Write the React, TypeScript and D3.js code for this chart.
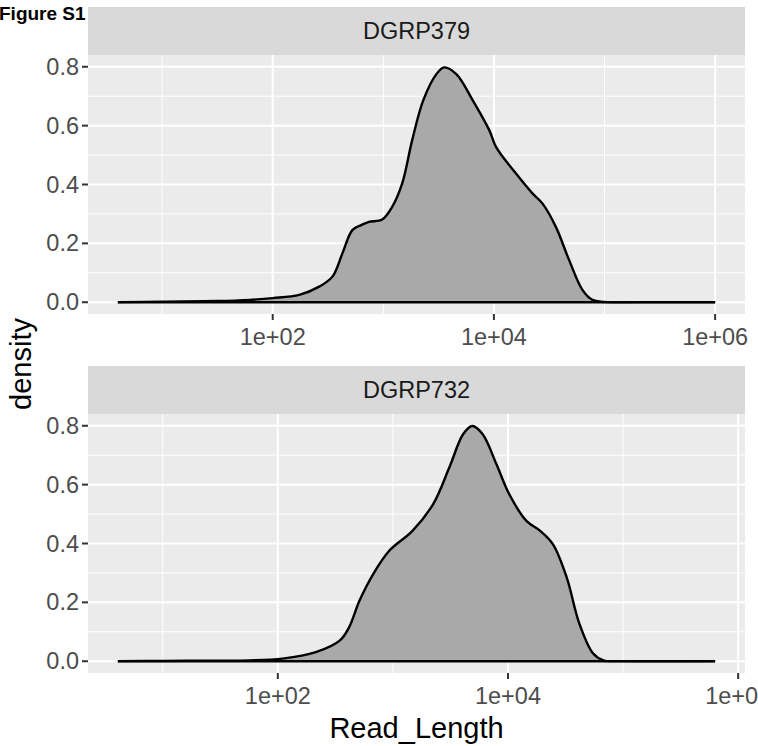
import * as d3 from "d3";

// log10(Read_Length) positions and estimated density
const facets = ["DGRP379", "DGRP732"];

const logLen379 = [0.6, 1.0, 1.5, 1.79, 2.0, 2.24, 2.42, 2.54, 2.63, 2.72, 2.8, 2.87, 2.99, 3.08, 3.17, 3.26, 3.36, 3.48, 3.55, 3.66, 3.81, 3.96, 4.02, 4.2, 4.35, 4.44, 4.56, 4.68, 4.8, 4.89, 5.0, 5.5, 6.0];
const density379 = [0.0, 0.002, 0.004, 0.008, 0.014, 0.025, 0.053, 0.087, 0.166, 0.245, 0.262, 0.273, 0.281, 0.324, 0.403, 0.549, 0.685, 0.775, 0.798, 0.775, 0.685, 0.583, 0.527, 0.437, 0.369, 0.335, 0.256, 0.143, 0.042, 0.008, 0.001, 0, 0];

const logLen732 = [0.61, 1.0, 1.5, 1.75, 2.04, 2.33, 2.54, 2.62, 2.71, 2.83, 2.97, 3.17, 3.35, 3.49, 3.61, 3.69, 3.78, 3.9, 4.01, 4.16, 4.28, 4.39, 4.51, 4.62, 4.74, 4.83, 5.0, 5.8];
const density732 = [0.0, 0.001, 0.002, 0.003, 0.009, 0.031, 0.071, 0.116, 0.206, 0.297, 0.376, 0.443, 0.534, 0.658, 0.771, 0.799, 0.771, 0.669, 0.568, 0.477, 0.443, 0.398, 0.285, 0.128, 0.026, 0.003, 0, 0];

const xBreaks = [1e2, 1e4, 1e6];
const xMinor = [1e1, 1e3, 1e5];
const yBreaks = [0, 0.2, 0.4, 0.6, 0.8];
const yMinor = [0.1, 0.3, 0.5, 0.7];

const W = 758, H = 746;
const left = 88, right = 745;
const font = "Liberation Sans, Arial, Helvetica, sans-serif";

const Panel = ({ name, logs, dens, top, id }) => {
  const stripH = 48, plotH = 259;
  const y0 = top + stripH, y1 = y0 + plotH;

  const pts = logs.map((l, i) => ({ x: Math.pow(10, l), y: dens[i] }));
  const lx = d3.extent(logs);
  const padX = (lx[1] - lx[0]) * 0.05;
  const x = d3.scaleLog()
    .domain([Math.pow(10, lx[0] - padX), Math.pow(10, lx[1] + padX)])
    .range([left, right]);
  const yMax = 0.8;
  const y = d3.scaleLinear()
    .domain([-yMax * 0.05, yMax * 1.05])
    .range([y1, y0]);

  const curve = d3.curveCatmullRom.alpha(0.5);
  const area = d3.area()
    .x(d => x(d.x))
    .y0(y(0))
    .y1(d => y(d.y))
    .curve(curve);
  const line = d3.line()
    .x(d => x(d.x))
    .y(d => y(d.y))
    .curve(curve);

  const inX = v => x(v) >= left && x(v) <= right;

  return (
    <g>
      <defs>
        <clipPath id={id}>
          <rect x={left} y={y0} width={right - left} height={y(0) - y0 + 1.2} />
        </clipPath>
      </defs>
      <rect x={left} y={top} width={right - left} height={stripH} fill="#D9D9D9" />
      <text x={(left + right) / 2} y={top + stripH / 2} textAnchor="middle" dominantBaseline="central"
        fontSize={23.5} fill="#1A1A1A" fontFamily={font}>{name}</text>
      <rect x={left} y={y0} width={right - left} height={plotH} fill="#EBEBEB" />
      {yMinor.map(v => <line key={"ym" + v} x1={left} x2={right} y1={y(v)} y2={y(v)} stroke="#fff" strokeWidth={1} />)}
      {xMinor.filter(inX).map(v => <line key={"xm" + v} x1={x(v)} x2={x(v)} y1={y0} y2={y1} stroke="#fff" strokeWidth={1} />)}
      {yBreaks.map(v => <line key={"yb" + v} x1={left} x2={right} y1={y(v)} y2={y(v)} stroke="#fff" strokeWidth={2} />)}
      {xBreaks.filter(inX).map(v => <line key={"xb" + v} x1={x(v)} x2={x(v)} y1={y0} y2={y1} stroke="#fff" strokeWidth={2} />)}
      <g clipPath={`url(#${id})`}>
        <path d={area(pts)} fill="#A9A9A9" />
        <path d={line(pts)} fill="none" stroke="#000" strokeWidth={2.4} strokeLinejoin="round" />
      </g>
      <line x1={x(pts[0].x)} x2={x(pts[pts.length - 1].x)} y1={y(0)} y2={y(0)} stroke="#000" strokeWidth={2.4} />
      {yBreaks.map(v => (
        <g key={"yt" + v}>
          <line x1={left - 6} x2={left} y1={y(v)} y2={y(v)} stroke="#333" strokeWidth={2} />
          <text x={left - 9} y={y(v)} textAnchor="end" dominantBaseline="central" fontSize={23.5}
            fill="#4D4D4D" fontFamily={font}>{v.toFixed(1)}</text>
        </g>
      ))}
      {xBreaks.filter(inX).map(v => (
        <g key={"xt" + v}>
          <line x1={x(v)} x2={x(v)} y1={y1} y2={y1 + 6} stroke="#333" strokeWidth={2} />
          <text x={x(v)} y={y1 + 31} textAnchor="middle" fontSize={23.5} fill="#4D4D4D"
            fontFamily={font}>{"1e+" + String(Math.round(Math.log10(v))).padStart(2, "0")}</text>
        </g>
      ))}
    </g>
  );
};

export default function App() {
  return (
    <svg width={W} height={H} style={{ position: "absolute", left: 0, top: 0, background: "#fff" }}>
      <rect width={W} height={H} fill="#fff" />
      <text x={-1} y={20} fontSize={19} fontWeight="bold" fontFamily={font} fill="#000">Figure S1</text>
      <Panel name={facets[0]} logs={logLen379} dens={density379} top={7} id="clipTop" />
      <Panel name={facets[1]} logs={logLen732} dens={density732} top={366} id="clipBottom" />
      <text transform="translate(31,364) rotate(-90)" textAnchor="middle" fontSize={29} fontFamily={font}
        fill="#000">density</text>
      <text x={(left + right) / 2} y={738} textAnchor="middle" fontSize={29} fontFamily={font}
        fill="#000">Read_Length</text>
    </svg>
  );
}
